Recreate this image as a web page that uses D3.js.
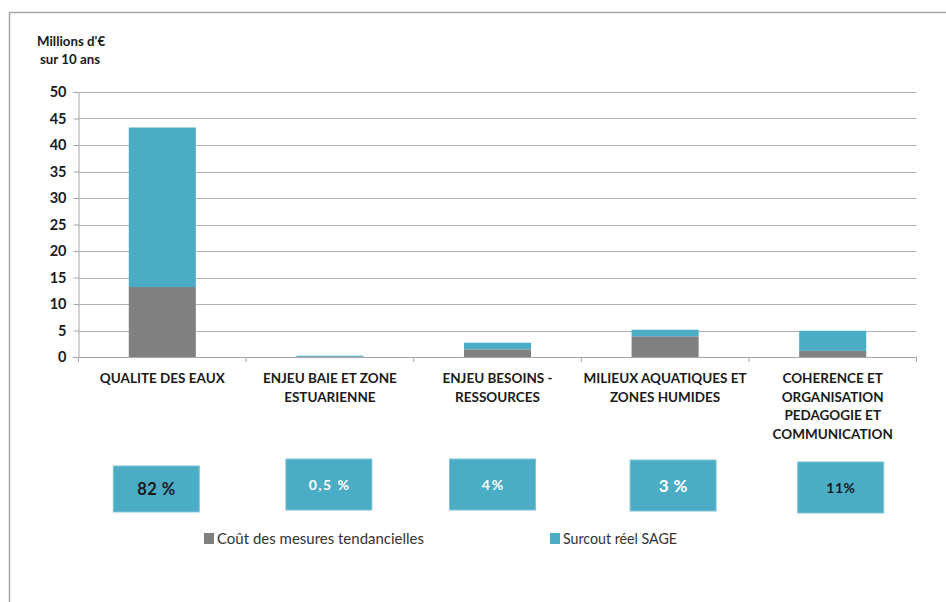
<!DOCTYPE html>
<html><head><meta charset="utf-8">
<script src="https://cdn.jsdelivr.net/npm/d3@7"></script>
<style>body{margin:0;background:#fff;} text{font-family:Lato,"Open Sans",sans-serif;}</style>
</head><body><svg id="c" width="946" height="602"></svg>
<script>
const categories = [
  ["QUALITE DES EAUX"],
  ["ENJEU BAIE ET ZONE", "ESTUARIENNE"],
  ["ENJEU BESOINS -", "RESSOURCES"],
  ["MILIEUX AQUATIQUES ET", "ZONES HUMIDES"],
  ["COHERENCE ET", "ORGANISATION", "PEDAGOGIE ET", "COMMUNICATION"]
];
const coutTendanciel = [13.2, 0.05, 1.45, 3.9, 1.15];
const surcoutSage = [30.1, 0.2, 1.25, 1.25, 3.8];
const shares = ["82 %", "0,5 %", "4%", "3 %", "11%"];
const yTicks = [0, 5, 10, 15, 20, 25, 30, 35, 40, 45, 50];
const seriesNames = ["Coût des mesures tendancielles", "Surcout réel SAGE"];

// styling/layout only
const colors = ["#808080", "#4bacc6"];
const boxDx = [-6, -1, -5, 8, 8];
const boxY = [466, 459, 459, 460, 462];
const boxText = [{c:"#1a1a1a", s:16.5, ls:0.5}, {c:"#fff", s:14, ls:1.5}, {c:"#fff", s:14, ls:2}, {c:"#fff", s:17, ls:0.5}, {c:"#1a1a1a", s:14, ls:0.5}];

const svg = d3.select("#c");
// frame
svg.append("line").attr("x1",9.5).attr("x2",9.5).attr("y1",12).attr("y2",602).attr("stroke","#a6a6a6").attr("stroke-width",1.5);
svg.append("line").attr("x1",9).attr("x2",946).attr("y1",12.5).attr("y2",12.5).attr("stroke","#a6a6a6").attr("stroke-width",1.5);

const pLeft = 78.5, pRight = 916.5, pTop = 92, pBottom = 357;
const idx = categories.map((d,i)=>i);
const x = d3.scaleBand().domain(idx).range([pLeft, pRight]).paddingInner(0.6).paddingOuter(0.3);
const xc = d3.scaleBand().domain(idx).range([pLeft, pRight]);
const y = d3.scaleLinear().domain([0, 50]).range([pBottom, pTop]);

// gridlines
svg.append("g").selectAll("line").data(yTicks.filter(t=>t>0)).join("line")
  .attr("x1", pLeft).attr("x2", pRight).attr("y1", d=>Math.round(y(d))+0.5).attr("y2", d=>Math.round(y(d))+0.5)
  .attr("stroke", "#b3b3b3").attr("stroke-width", 1);

// y axis
const ya = svg.append("g").attr("transform", `translate(${pLeft},0)`)
  .call(d3.axisLeft(y).tickValues(yTicks).tickSize(5).tickPadding(7));
ya.select(".domain").attr("stroke", "#a6a6a6");
ya.selectAll(".tick line").attr("stroke", "#a6a6a6");
ya.selectAll("text").attr("font-size", 14.5).attr("font-weight", "bold").attr("fill", "#1a1a1a")
  .style("font-family", "Lato, sans-serif");

// stacked bars
const stack = d3.stack().keys([0,1])(idx.map(i=>({0: coutTendanciel[i], 1: surcoutSage[i]})));
stack.forEach((layer, k) => {
  svg.append("g").selectAll("rect").data(layer).join("rect")
    .attr("x", (d,i)=>x(i)).attr("width", x.bandwidth())
    .attr("y", d=>y(d[1])).attr("height", d=>y(d[0])-y(d[1]))
    .attr("fill", colors[k]);
});

// x axis
const xa = svg.append("g").attr("transform", `translate(0,${pBottom})`);
xa.append("line").attr("x1", pLeft).attr("x2", pRight).attr("y1", 0.5).attr("y2", 0.5).attr("stroke", "#a6a6a6");
xa.selectAll("line.t").data(d3.range(categories.length+1)).join("line").attr("class","t")
  .attr("x1", i=>pLeft + i*xc.step()).attr("x2", i=>pLeft + i*xc.step()).attr("y1", 0).attr("y2", 5)
  .attr("stroke", "#a6a6a6");

// category labels
categories.forEach((lines, i) => {
  const cx = xc(i) + xc.bandwidth()/2;
  const t = svg.append("text").attr("text-anchor", "middle").attr("font-size", 13.5).attr("font-weight", "bold").attr("fill", "#1a1a1a");
  lines.forEach((l, j) => t.append("tspan").attr("x", cx).attr("y", 383 + j*18.7).text(l));
});

// y title
svg.append("text").attr("x", 37).attr("y", 46).attr("font-size", 13.3).attr("font-weight","bold").attr("fill","#1a1a1a").text("Millions d'€");
svg.append("text").attr("x", 40).attr("y", 64).attr("font-size", 13.3).attr("font-weight","bold").attr("fill","#1a1a1a").text("sur 10 ans");

// percentage boxes
shares.forEach((s, i) => {
  const cx = xc(i) + xc.bandwidth()/2 + boxDx[i];
  const g = svg.append("g");
  g.append("rect").attr("x", cx-43).attr("y", boxY[i]).attr("width", 86).attr("height", 46+ (i===0?0:5))
    .attr("fill", "#4bacc6").attr("stroke", "#7fc3d6").attr("stroke-width", 1);
  g.append("text").attr("x", cx + boxText[i].ls/2).attr("y", boxY[i] + (i===0?23:26) ).attr("dy", "0.35em").attr("text-anchor", "middle")
    .attr("font-size", boxText[i].s).attr("font-weight", "bold").attr("letter-spacing", boxText[i].ls)
    .attr("fill", boxText[i].c).text(s);
});

// legend
const legX = [204, 550], legW = [207, 114];
seriesNames.forEach((n, k) => {
  svg.append("rect").attr("x", legX[k]).attr("y", 533).attr("width", 10).attr("height", 11).attr("fill", colors[k]);
  svg.append("text").attr("x", legX[k]+13).attr("y", 544).attr("font-size", 15).attr("fill", "#333")
    .attr("textLength", legW[k]).attr("lengthAdjust", "spacingAndGlyphs").text(n);
});
</script></body></html>
